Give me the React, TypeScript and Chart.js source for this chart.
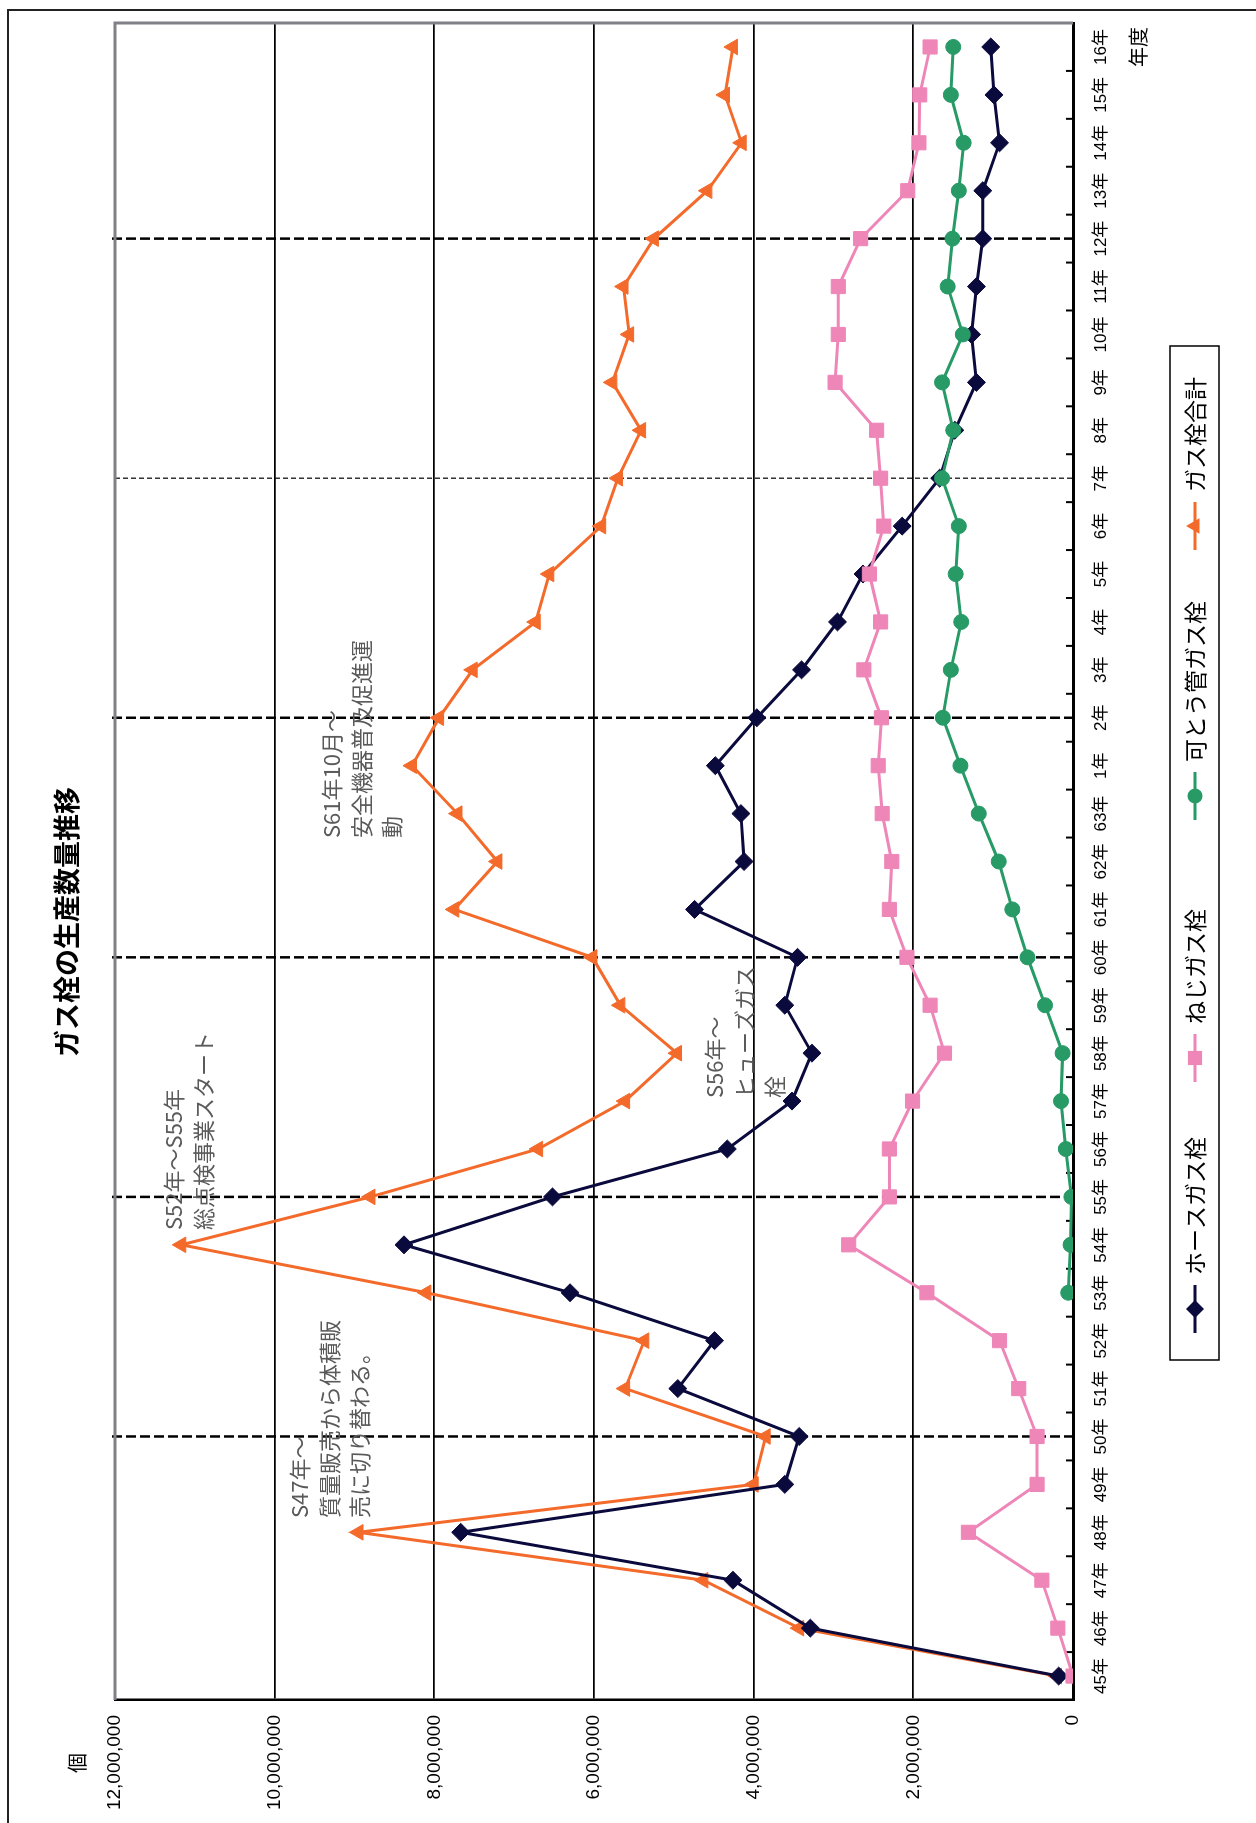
import React, { useEffect, useRef } from 'react';
import { Chart, registerables } from 'chart.js';

Chart.register(...registerables);

// ---- data ----
const YEARS = ['45年','46年','47年','48年','49年','50年','51年','52年','53年','54年','55年','56年','57年','58年','59年','60年','61年','62年','63年','1年','2年','3年','4年','5年','6年','7年','8年','9年','10年','11年','12年','13年','14年','15年','16年'];

const HOSE = [180000, 3290000, 4260000, 7670000, 3610000, 3430000, 4950000, 4490000, 6300000, 8380000, 6520000, 4330000, 3520000, 3270000, 3610000, 3450000, 4740000, 4120000, 4160000, 4480000, 3960000, 3400000, 2950000, 2630000, 2140000, 1670000, 1480000, 1210000, 1270000, 1210000, 1130000, 1130000, 920000, 990000, 1030000];

const NEJI = [0, 190000, 390000, 1310000, 450000, 450000, 680000, 920000, 1830000, 2810000, 2300000, 2300000, 2010000, 1610000, 1790000, 2080000, 2300000, 2270000, 2390000, 2440000, 2400000, 2620000, 2410000, 2550000, 2370000, 2410000, 2460000, 2980000, 2940000, 2940000, 2660000, 2070000, 1930000, 1920000, 1790000];

const KATOU = [null, null, null, null, null, null, null, null, 60000, 30000, 20000, 90000, 150000, 130000, 350000, 570000, 760000, 930000, 1180000, 1410000, 1630000, 1530000, 1400000, 1470000, 1430000, 1640000, 1500000, 1640000, 1380000, 1570000, 1510000, 1430000, 1370000, 1530000, 1500000];

const TOTAL = [200000, 3430000, 4630000, 8950000, 4000000, 3850000, 5610000, 5370000, 8100000, 11170000, 8800000, 6700000, 5610000, 4960000, 5670000, 6020000, 7750000, 7210000, 7710000, 8280000, 7940000, 7520000, 6730000, 6560000, 5910000, 5700000, 5410000, 5770000, 5560000, 5630000, 5250000, 4580000, 4150000, 4360000, 4260000];

const SERIES_NAMES = ['ホースガス栓', 'ねじガス栓', '可とう管ガス栓', 'ガス栓合計'];
const TITLE = 'ガス栓の生産数量推移';
const Y_UNIT = '個';
const X_UNIT = '年度';
const Y_MAX = 12000000;
const Y_STEP = 2000000;
const DASH_YEARS = ['50年', '55年', '60年', '2年', '12年'];
const THIN_DASH_YEARS = ['7年'];

const NOTES = [
  { at: 305, y: 300, lines: ['S47年～', '質量販売から体積販', '売に切り替わる。'] },
  { at: 593, y: 174, lines: ['S52年～S55年', '総点検事業スタート'] },
  { at: 725, y: 715, lines: ['S56年～', 'ヒューズガス', '栓'] },
  { at: 985, y: 332, lines: ['S61年10月～', '安全機器普及促進運', '動'] },
];

// ---- style ----
const COLORS = ['#0b0a3d', '#ee86b8', '#279a66', '#f36a2b'];
const STYLES = ['rectRot', 'rect', 'circle', 'triangle'];
const RADII = [9, 10, 7.5, 9];
const DRAW_ORDER = [2, 1, 0, 3]; // lower = drawn on top
const LATIN = "'Liberation Sans', 'Noto Sans CJK JP', sans-serif";
const CJK = "'Noto Sans CJK JP', sans-serif";

const PAGE_W = 1256;
const PAGE_H = 1823;

function drawMarker(ctx: CanvasRenderingContext2D, style: string, x: number, y: number, r: number, color: string) {
  ctx.save();
  ctx.fillStyle = color;
  ctx.beginPath();
  if (style === 'rectRot') {
    ctx.moveTo(x, y - r); ctx.lineTo(x + r, y); ctx.lineTo(x, y + r); ctx.lineTo(x - r, y); ctx.closePath();
  } else if (style === 'rect') {
    const s = r * Math.SQRT1_2;
    ctx.rect(x - s, y - s, 2 * s, 2 * s);
  } else if (style === 'circle') {
    ctx.arc(x, y, r, 0, Math.PI * 2);
  } else {
    const a = (2 * Math.PI) / 3;
    ctx.moveTo(x, y - r);
    ctx.lineTo(x + Math.sin(a) * r, y - Math.cos(a) * r);
    ctx.lineTo(x + Math.sin(2 * a) * r, y - Math.cos(2 * a) * r);
    ctx.closePath();
  }
  ctx.fill();
  ctx.restore();
}

const decor = {
  id: 'decor',
  beforeDatasetsDraw(chart: any) {
    const { ctx, chartArea: a, scales } = chart;
    const x = scales.x;
    const labels: string[] = x.getLabels();
    ctx.save();
    ctx.strokeStyle = '#000';
    ctx.lineWidth = 2.5;
    ctx.setLineDash([10, 4]);
    for (const lab of DASH_YEARS) {
      const px = x.getPixelForValue(labels.indexOf(lab));
      ctx.beginPath(); ctx.moveTo(px, a.top - 3); ctx.lineTo(px, a.bottom); ctx.stroke();
    }
    ctx.lineWidth = 1.2;
    ctx.setLineDash([5, 3]);
    for (const lab of THIN_DASH_YEARS) {
      const px = x.getPixelForValue(labels.indexOf(lab));
      ctx.beginPath(); ctx.moveTo(px, a.top); ctx.lineTo(px, a.bottom); ctx.stroke();
    }
    ctx.setLineDash([]);
    // plot border (top & right) gray
    ctx.strokeStyle = '#808088';
    ctx.lineWidth = 3;
    ctx.beginPath();
    ctx.moveTo(a.left, a.top); ctx.lineTo(a.right, a.top); ctx.lineTo(a.right, a.bottom);
    ctx.stroke();
    // inner category ticks
    ctx.strokeStyle = '#000';
    ctx.lineWidth = 2;
    for (let i = 1; i < labels.length; i++) {
      const px = x.getPixelForValue(i - 0.5);
      ctx.beginPath(); ctx.moveTo(px, a.bottom); ctx.lineTo(px, a.bottom - 7); ctx.stroke();
    }
    ctx.restore();
  },
  afterDraw(chart: any) {
    const { ctx } = chart;
    ctx.save();
    // outer frame (left & top of the page)
    ctx.strokeStyle = '#222';
    ctx.lineWidth = 2;
    ctx.beginPath();
    ctx.moveTo(0, 8); ctx.lineTo(1813, 8); ctx.lineTo(1813, PAGE_W);
    ctx.stroke();

    // title
    ctx.fillStyle = '#000';
    ctx.font = `bold 27px ${CJK}`;
    ctx.textAlign = 'center';
    ctx.textBaseline = 'middle';
    ctx.fillText(TITLE, 901, 67);

    // unit labels
    ctx.font = `20px ${CJK}`;
    ctx.fillText(Y_UNIT, 60, 77);
    ctx.fillText(X_UNIT, 1776, 1138);

    // annotations
    ctx.fillStyle = '#5a5a5a';
    ctx.font = `22px ${CJK}`;
    ctx.textAlign = 'left';
    for (const n of NOTES) {
      n.lines.forEach((t, i) => ctx.fillText(t, n.at, n.y + i * 30));
    }

    // legend
    ctx.strokeStyle = '#000';
    ctx.lineWidth = 1.5;
    ctx.strokeRect(463, 1170, 1014, 49);
    const starts = [490, 741, 1003, 1273];
    const cy = 1195;
    ctx.font = `23px ${CJK}`;
    SERIES_NAMES.forEach((name, i) => {
      const s = starts[i];
      ctx.strokeStyle = COLORS[i];
      ctx.lineWidth = 3;
      ctx.beginPath(); ctx.moveTo(s, cy); ctx.lineTo(s + 48, cy); ctx.stroke();
      drawMarker(ctx, STYLES[i], s + 24, cy, RADII[i], COLORS[i]);
      ctx.fillStyle = '#000';
      ctx.fillText(name, s + 58, cy);
    });
    ctx.restore();
  },
};

export default function App() {
  const ref = useRef<HTMLCanvasElement | null>(null);
  useEffect(() => {
    if (!ref.current) return;
    const all = [HOSE, NEJI, KATOU, TOTAL];
    const chart = new Chart(ref.current, {
      type: 'line',
      data: {
        labels: YEARS,
        datasets: all.map((d, i) => ({
          label: SERIES_NAMES[i],
          data: d as any,
          order: DRAW_ORDER[i],
          borderColor: COLORS[i],
          backgroundColor: COLORS[i],
          borderWidth: 3,
          pointStyle: STYLES[i] as any,
          pointRadius: RADII[i],
          pointBorderWidth: 1,
          pointBackgroundColor: COLORS[i],
          pointBorderColor: COLORS[i],
          tension: 0,
          fill: false,
          spanGaps: false,
        })),
      },
      options: {
        animation: false,
        responsive: false,
        devicePixelRatio: 1,
        layout: { padding: { left: 0, top: 115, right: 23, bottom: 0 } },
        plugins: {
          legend: { display: false },
          title: { display: false },
          tooltip: { enabled: false },
        },
        scales: {
          x: {
            type: 'category',
            offset: true,
            grid: { display: false, drawTicks: false },
            border: { display: true, color: '#000', width: 3 },
            ticks: {
              color: '#000',
              font: { family: LATIN, size: 17 },
              padding: 18,
              maxRotation: 0,
              minRotation: 0,
              autoSkip: false,
            },
            afterFit: (s: any) => { s.height = 183; },
          },
          y: {
            min: 0,
            max: Y_MAX,
            grid: {
              drawTicks: false,
              lineWidth: 1.8,
              color: (c: any) => (c.tick && c.tick.value === Y_MAX ? 'rgba(0,0,0,0)' : '#000'),
            },
            border: { display: true, color: '#000', width: 2.5 },
            ticks: {
              stepSize: Y_STEP,
              color: '#000',
              font: { family: LATIN, size: 19 },
              padding: 15,
              callback: (v: any) => Number(v).toLocaleString('en-US'),
            },
            afterFit: (s: any) => { s.width = 123; },
          },
        },
      },
      plugins: [decor],
    });
    return () => chart.destroy();
  }, []);

  return (
    <div style={{ position: 'absolute', left: 0, top: 0, width: PAGE_W, height: PAGE_H, overflow: 'hidden', background: '#fff' }}>
      <div
        style={{
          position: 'absolute',
          left: 0,
          top: 0,
          width: PAGE_H,
          height: PAGE_W,
          transformOrigin: '0 0',
          transform: `translate(0px, ${PAGE_H}px) rotate(-90deg)`,
        }}
      >
        <canvas ref={ref} width={PAGE_H} height={PAGE_W} style={{ display: 'block', width: PAGE_H, height: PAGE_W }} />
      </div>
    </div>
  );
}
